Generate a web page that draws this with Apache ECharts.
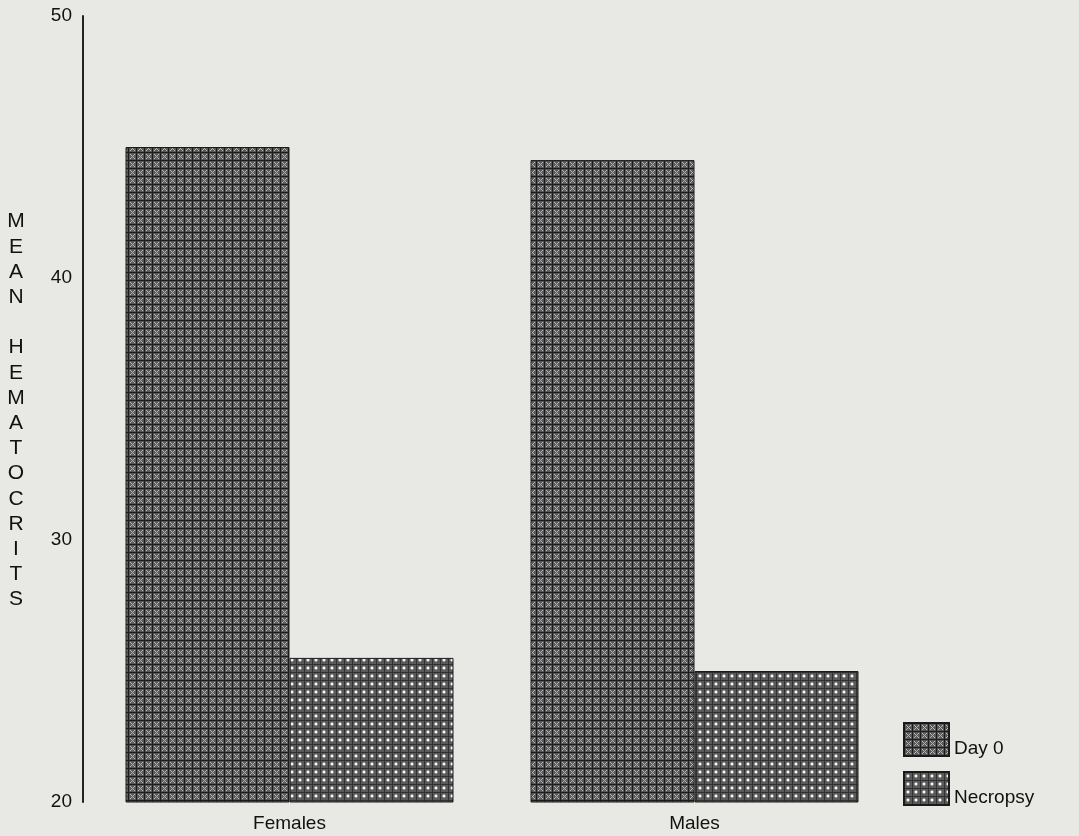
<!DOCTYPE html>
<html>
<head>
<meta charset="utf-8">
<script src="https://cdn.jsdelivr.net/npm/echarts@6/dist/echarts.min.js"></script>
<style>
html,body{margin:0;padding:0;background:#e8e9e4;}
#chart{width:1079px;height:836px;}
</style>
</head>
<body>
<div id="chart"></div>
<script>
const categories = ['Females', 'Males'];
const seriesNames = ['Day 0', 'Necropsy'];
const day0 = [45.0, 44.5];
const necropsy = [25.5, 25.0];
const yMin = 20, yMax = 50, yInterval = 10;
const yTitle = 'MEAN HEMATOCRITS';

function makeDay0Pattern() {
  const c = document.createElement('canvas');
  c.width = 8; c.height = 8;
  const g = c.getContext('2d');
  g.fillStyle = '#585858'; g.fillRect(0, 0, 8, 8);
  g.strokeStyle = '#b8b8b8'; g.lineWidth = 1;
  g.beginPath();
  g.moveTo(2, 2); g.lineTo(7, 7);
  g.moveTo(7, 2); g.lineTo(2, 7);
  g.stroke();
  g.fillStyle = '#1c1c1c';
  g.fillRect(0, 0, 8, 1); g.fillRect(0, 0, 1, 8);
  return c;
}
function makeNecPattern() {
  const c = document.createElement('canvas');
  c.width = 8; c.height = 8;
  const g = c.getContext('2d');
  g.fillStyle = '#5a5a5a'; g.fillRect(0, 0, 8, 8);
  g.fillStyle = '#303030';
  g.fillRect(0, 0, 8, 1); g.fillRect(0, 0, 1, 8);
  g.fillStyle = '#9c9c9c';
  g.fillRect(3, 2, 2, 4); g.fillRect(2, 3, 4, 2);
  g.fillStyle = '#f4f4f4';
  g.fillRect(3, 3, 2, 2);
  return c;
}

const chart = echarts.init(document.getElementById('chart'));
const font = 'Liberation Sans, Arial, sans-serif';
chart.setOption({
  backgroundColor: '#e8e9e4',
  animation: false,
  textStyle: { fontFamily: font },
  grid: { left: 87, width: 810, top: 16, bottom: 34 },
  legend: {
    orient: 'vertical',
    left: 903, top: 722,
    padding: 0,
    itemWidth: 45, itemHeight: 33, itemGap: 13,
    icon: 'rect',
    formatter: '{t|{name}}',
    textStyle: {
      fontSize: 19, color: '#111', fontFamily: font,
      rich: { t: { fontSize: 19, color: '#111', fontFamily: font, padding: [18, 0, 0, 0] } }
    },
    data: seriesNames
  },
  xAxis: {
    type: 'category',
    data: categories,
    axisLine: { show: false },
    axisTick: { show: false },
    axisLabel: { fontSize: 19, color: '#111', margin: 12, fontFamily: font }
  },
  yAxis: {
    type: 'value',
    min: yMin, max: yMax, interval: yInterval,
    offset: 4,
    axisLine: { show: true, lineStyle: { color: '#222', width: 2 } },
    axisTick: { show: false },
    splitLine: { show: false },
    axisLabel: { fontSize: 19, color: '#111', margin: 11, fontFamily: font }
  },
  graphic: [{
    type: 'text',
    x: 16, y: 209,
    style: {
      text: yTitle.split('').join('\n'),
      fontSize: 21, lineHeight: 25.2,
      fill: '#111', fontFamily: font,
      textAlign: 'center', textVerticalAlign: 'top'
    }
  }],
  series: [
    {
      name: seriesNames[0], type: 'bar', data: day0,
      barWidth: 164, barGap: '0%',
      itemStyle: { color: { image: makeDay0Pattern(), repeat: 'repeat' }, borderColor: '#1a1a1a', borderWidth: 1 }
    },
    {
      name: seriesNames[1], type: 'bar', data: necropsy,
      barWidth: 164, barGap: '0%',
      itemStyle: { color: { image: makeNecPattern(), repeat: 'repeat' }, borderColor: '#1a1a1a', borderWidth: 1 }
    }
  ]
});
</script>
</body>
</html>
